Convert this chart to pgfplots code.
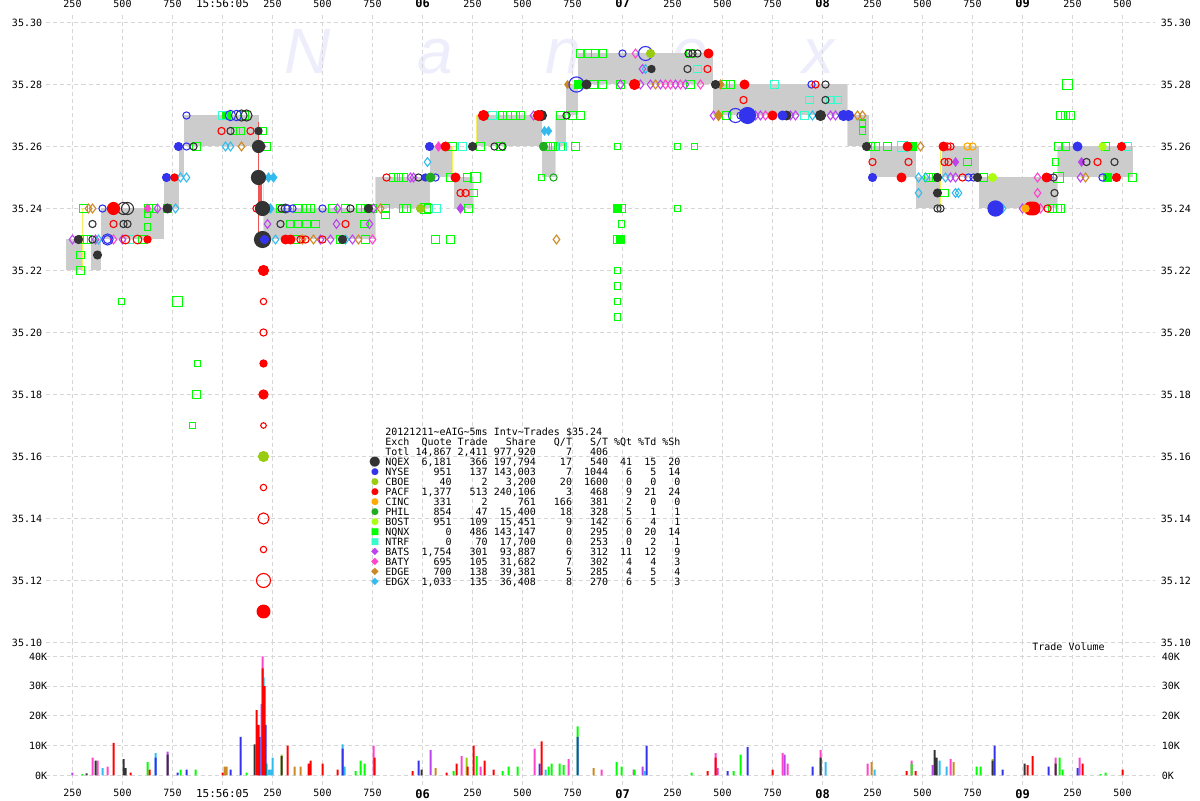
\documentclass[border=0pt]{standalone}
\usepackage{fontspec}
\setmainfont{DejaVu Sans Mono}
\newfontfamily\wmfont{Liberation Sans}
\newfontfamily\symfont{DejaVu Sans}
\usepackage{pgfplots}
\pgfplotsset{compat=1.18}

\definecolor{gridc}{HTML}{D6D6D6}
\definecolor{nbbo}{HTML}{CCCCCC}
\definecolor{wm}{HTML}{EDEDFC}
\definecolor{yel}{HTML}{F4F45A}
\definecolor{redl}{HTML}{EE5555}
\definecolor{nqex}{HTML}{333333}
\definecolor{nyse}{HTML}{3333EE}
\definecolor{cboe}{HTML}{99CC11}
\definecolor{pacf}{HTML}{FF0000}
\definecolor{cinc}{HTML}{FFAA00}
\definecolor{phil}{HTML}{22AA22}
\definecolor{bost}{HTML}{AAFF11}
\definecolor{nqnx}{HTML}{00FF00}
\definecolor{ntrf}{HTML}{33FFCC}
\definecolor{bats}{HTML}{BB44EE}
\definecolor{baty}{HTML}{FF44CC}
\definecolor{edge}{HTML}{CC8822}
\definecolor{edgx}{HTML}{33BBEE}

\newcommand\tbl{\fontsize{5}{5}\selectfont}

\pgfplotsset{
  base/.style={scale only axis, width=554pt, xmin=120, xmax=5660,
    axis line style={draw=none}, major tick length=0pt,
    grid=major, major grid style={gridc, dash pattern=on 2pt off 1.5pt, line width=0.5pt},
    xtick={250,500,...,5500},
    tick label style={font=\tbl, inner sep=0pt}},
  xlabs/.style={xticklabels={250,500,750,{\fontsize{5.5}{5.5}\selectfont 15:56:05},250,500,750,{\fontsize{6}{6}\selectfont\bfseries 06},250,500,750,{\fontsize{6}{6}\selectfont\bfseries 07},250,500,750,{\fontsize{6}{6}\selectfont\bfseries 08},250,500,750,{\fontsize{6}{6}\selectfont\bfseries 09},250,500}},
  pticks/.style={ymin=35.10, ymax=35.3029,
    ytick={35.10,35.12,35.14,35.16,35.18,35.20,35.22,35.24,35.26,35.28,35.30},
    yticklabels={35.10,35.12,35.14,35.16,35.18,35.20,35.22,35.24,35.26,35.28,35.30}},
  vticks/.style={ymin=-3.03, ymax=44.7, ytick={0,10,20,30,40},
    yticklabels={0K,10K,20K,30K,40K}},
  mk/.style 2 args={only marks, scatter, mark=#1, mark options={line width=0.55pt},
    scatter/use mapped color={draw=#2, fill=#2},
    visualization depends on={\thisrow{s}\as\msz},
    scatter/@pre marker code/.append style={/tikz/mark size=\msz}},
  vb/.style={ybar, bar shift=0pt, bar width=1pt, fill=#1, draw=none},
  box/.style={fill=nbbo, draw=none},
  yl/.style={color=yel, line width=0.8pt},
}

\begin{document}
\begin{tikzpicture}
\useasboundingbox (0,0) rectangle (600pt,400pt);

% watermark
\foreach \c/\xx in {N/154pt, a/217.5pt, n/281.5pt, e/345pt, x/409pt}
  \node[anchor=base, inner sep=0, text=wm, font={\wmfont\itshape\fontsize{32}{32}\selectfont}] at (\xx,363pt) {\c};

% price panel
\begin{axis}[base, pticks, at={(23.25pt,78.75pt)}, anchor=south west, height=314.5pt,
  xticklabel pos=upper, xlabs, xticklabel style={anchor=south, yshift=2.75pt},
  yticklabel style={anchor=east, xshift=-2pt}]

% NBBO spread
\addplot[box] coordinates {(220,35.22)(300,35.22)(300,35.23)(220,35.23)};
\addplot[box] coordinates {(340,35.22)(390,35.22)(390,35.23)(340,35.23)};
\addplot[box] coordinates {(390,35.23)(705,35.23)(705,35.24)(390,35.24)};
\addplot[box] coordinates {(705,35.24)(780,35.24)(780,35.25)(705,35.25)};
\addplot[box] coordinates {(780,35.25)(805,35.25)(805,35.26)(780,35.26)};
\addplot[box] coordinates {(805,35.26)(1180,35.26)(1180,35.27)(805,35.27)};
\addplot[box] coordinates {(1205,35.23)(1765,35.23)(1765,35.24)(1205,35.24)};
\addplot[box] coordinates {(1765,35.24)(2035,35.24)(2035,35.25)(1765,35.25)};
\addplot[box] coordinates {(2035,35.25)(2150,35.25)(2150,35.26)(2035,35.26)};
\addplot[box] coordinates {(2155,35.24)(2255,35.24)(2255,35.25)(2155,35.25)};
\addplot[box] coordinates {(2270,35.26)(2595,35.26)(2595,35.27)(2270,35.27)};
\addplot[box] coordinates {(2595,35.25)(2665,35.25)(2665,35.26)(2595,35.26)};
\addplot[box] coordinates {(2665,35.26)(2715,35.26)(2715,35.27)(2665,35.27)};
\addplot[box] coordinates {(2715,35.27)(2775,35.27)(2775,35.28)(2715,35.28)};
\addplot[box] coordinates {(2775,35.28)(3450,35.28)(3450,35.29)(2775,35.29)};
\addplot[box] coordinates {(3450,35.27)(4125,35.27)(4125,35.28)(3450,35.28)};
\addplot[box] coordinates {(4125,35.26)(4230,35.26)(4230,35.27)(4125,35.27)};
\addplot[box] coordinates {(4235,35.25)(4465,35.25)(4465,35.26)(4235,35.26)};
\addplot[box] coordinates {(4465,35.24)(4590,35.24)(4590,35.25)(4465,35.25)};
\addplot[box] coordinates {(4595,35.25)(4780,35.25)(4780,35.26)(4595,35.26)};
\addplot[box] coordinates {(4780,35.24)(5175,35.24)(5175,35.25)(4780,35.25)};
\addplot[box] coordinates {(5175,35.25)(5550,35.25)(5550,35.26)(5175,35.26)};

% locked / crossed markers
\addplot[yl] coordinates {(300,35.22)(300,35.24)};
\addplot[yl] coordinates {(1205,35.23)(1205,35.248)};
\addplot[yl] coordinates {(1765,35.23)(1765,35.25)};
\addplot[yl] coordinates {(2150,35.25)(2150,35.26)};
\addplot[yl] coordinates {(2255,35.24)(2255,35.25)};
\addplot[yl] coordinates {(2270,35.26)(2270,35.27)};
\addplot[yl] coordinates {(2665,35.25)(2665,35.27)};
\addplot[yl] coordinates {(4125,35.26)(4125,35.28)};
\addplot[yl] coordinates {(4590,35.24)(4590,35.26)};
\addplot[yl] coordinates {(5175,35.24)(5175,35.26)};
\addplot[color=redl, line width=0.6pt] coordinates {(1180,35.268)(1180,35.23)};
\addplot[color=redl, line width=1.6pt] coordinates {(1190,35.2485)(1190,35.2405)};

% NQNX / NTRF prints
\addplot[mk={square}{nqnx}] table[row sep=\\]{x y s\\
305 35.24 2.0\\ 325 35.23 2.0\\ 305 35.23 2.0\\ 600 35.23 2.0\\ 290 35.225 1.8\\ 290 35.22 1.8\\
630 35.24 2.0\\ 655 35.24 2.0\\ 725 35.24 2.0\\ 625 35.238 1.6\\ 625 35.234 1.6\\ 495 35.21 1.4\\
775 35.21 2.6\\ 875 35.19 1.4\\ 870 35.18 2.0\\ 850 35.17 1.4\\ 870 35.26 2.2\\ 1110 35.27 2.0\\
1020 35.27 2.0\\ 1065 35.265 1.8\\ 1090 35.265 1.8\\ 1200 35.265 1.8\\ 1220 35.26 1.8\\ 1220 35.24 1.8\\
1290 35.24 1.8\\ 1375 35.24 2.0\\ 1420 35.24 1.8\\ 1440 35.24 1.8\\ 1550 35.24 2.0\\ 1615 35.24 1.8\\
1690 35.24 1.8\\ 1715 35.24 1.8\\ 1750 35.24 1.8\\ 1340 35.235 1.8\\ 1375 35.235 1.8\\ 1420 35.235 1.8\\
1465 35.235 1.8\\ 1710 35.235 1.8\\ 1365 35.23 1.8\\ 1590 35.23 1.8\\ 1715 35.23 1.8\\ 1815 35.238 1.8\\
1855 35.25 1.8\\ 1880 35.25 1.8\\ 1905 35.25 1.8\\ 1815 35.24 1.8\\ 1905 35.24 2.0\\ 1920 35.24 2.0\\
2015 35.24 2.6\\ 2030 35.24 2.0\\ 2065 35.23 1.8\\ 2140 35.23 1.8\\ 2140 35.25 1.8\\ 2225 35.25 1.8\\
2265 35.25 2.4\\ 2150 35.26 1.8\\ 2290 35.26 1.8\\ 2390 35.26 1.8\\ 2255 35.245 1.8\\ 2230 35.24 1.8\\
2400 35.27 2.0\\ 2425 35.27 2.0\\ 2465 35.27 2.0\\ 2490 35.27 2.0\\ 2615 35.26 2.0\\ 2640 35.26 2.0\\
2665 35.26 2.0\\ 2690 35.26 2.0\\ 2765 35.26 2.0\\ 2975 35.26 1.6\\ 3275 35.26 1.6\\ 3360 35.26 1.6\\
2690 35.27 2.0\\ 2750 35.27 2.0\\ 2790 35.27 2.0\\ 2595 35.25 1.6\\ 2790 35.29 1.8\\ 2825 35.29 1.8\\
2865 35.29 1.8\\ 2900 35.29 1.8\\ 2855 35.28 2.0\\ 2900 35.28 2.0\\ 2990 35.28 1.8\\ 3340 35.28 1.8\\
3340 35.29 1.8\\ 3515 35.28 2.0\\ 3540 35.28 2.0\\ 3520 35.27 1.8\\ 2975 35.24 2.2\\ 2995 35.24 1.8\\
2995 35.235 1.6\\ 2975 35.23 2.0\\ 2990 35.23 2.2\\ 2975 35.22 1.6\\ 2975 35.215 1.6\\ 2975 35.21 1.6\\
2975 35.205 1.6\\ 3275 35.24 1.6\\ 4200 35.2675 1.6\\ 4200 35.265 1.6\\ 4240 35.26 1.8\\ 4265 35.26 1.8\\
4325 35.26 1.8\\ 4450 35.26 1.8\\ 4530 35.25 1.8\\ 4555 35.25 1.8\\ 4610 35.245 1.8\\ 4725 35.255 1.8\\
4805 35.25 1.8\\ 5165 35.255 1.6\\ 5180 35.25 2.4\\ 5180 35.26 1.8\\ 5215 35.26 1.8\\ 5150 35.24 1.8\\
5175 35.24 1.8\\ 5190 35.24 1.8\\ 5425 35.25 1.8\\ 5550 35.25 1.8\\ 5225 35.28 2.4\\ 5190 35.27 1.8\\
5215 35.27 1.8\\ 5240 35.27 1.8\\ 5415 35.26 1.8\\
};
\addplot[mk={square*}{nqnx}] table[row sep=\\]{x y s\\
1020 35.27 2.0\\ 2780 35.28 2.2\\ 2975 35.24 2.0\\ 2990 35.23 2.0\\ 4450 35.26 1.8\\ 5425 35.25 1.8\\
};
\addplot[mk={square}{ntrf}] table[row sep=\\]{x y s\\
535 35.23 1.8\\ 1000 35.27 1.8\\ 2200 35.26 1.8\\ 2350 35.27 1.8\\ 2070 35.24 1.8\\ 2700 35.26 1.8\\
3375 35.285 1.8\\ 3760 35.28 1.8\\ 3935 35.275 1.8\\ 4040 35.275 1.8\\ 4075 35.275 1.8\\ 3910 35.27 1.8\\
4400 35.26 2.4\\ 5525 35.26 1.8\\
};

% diamonds: BATS, BATY, EDGE, EDGX
\addplot[mk={diamond}{bats}] table[row sep=\\]{x y s\\
250 35.23 2.2\\ 365 35.23 2.2\\ 500 35.23 2.2\\ 675 35.24 2.2\\ 1225 35.235 2.2\\ 1575 35.24 2.2\\
1570 35.235 2.2\\ 1735 35.235 2.2\\ 1490 35.23 2.2\\ 1540 35.23 2.2\\ 1650 35.23 2.2\\ 1940 35.25 2.2\\
1955 35.25 2.2\\ 1755 35.24 2.2\\ 2555 35.27 2.2\\ 3090 35.28 2.2\\ 3140 35.28 2.2\\ 3190 35.28 2.2\\
3265 35.28 2.2\\ 3315 35.28 2.2\\ 3665 35.27 2.2\\ 3690 35.27 2.2\\ 3840 35.27 2.2\\ 3865 35.27 2.2\\
4040 35.27 2.2\\ 4065 35.27 2.2\\ 4640 35.25 2.2\\ 4665 35.25 2.2\\ 5290 35.25 2.2\\ 5000 35.24 2.2\\
3455 35.27 2.2\\ 2990 35.28 2.2\\ 3100 35.285 2.2\\
};
\addplot[mk={diamond*}{bats}] table[row sep=\\]{x y s\\
2190 35.24 2.2\\ 4665 35.255 2.0\\ 5295 35.255 2.0\\ 1200 35.26 2.0\\
};
\addplot[mk={diamond}{baty}] table[row sep=\\]{x y s\\
455 35.23 2.2\\ 1750 35.23 2.2\\ 3065 35.29 2.2\\ 3215 35.28 2.2\\ 3240 35.28 2.2\\ 3290 35.28 2.2\\
3715 35.27 2.2\\ 5075 35.25 2.2\\ 5075 35.245 2.2\\ 5090 35.24 2.2\\ 3390 35.28 2.2\\
};
\addplot[mk={diamond*}{baty}] table[row sep=\\]{x y s\\
625 35.24 2.0\\ 2080 35.26 2.2\\
};
\addplot[mk={diamond}{edge}] table[row sep=\\]{x y s\\
330 35.24 2.2\\ 350 35.24 2.2\\ 1095 35.26 2.2\\ 1400 35.23 2.2\\ 1455 35.23 2.2\\ 1680 35.23 2.2\\
1790 35.24 2.2\\ 3165 35.28 2.2\\ 4175 35.27 2.2\\ 4200 35.27 2.2\\ 4490 35.26 2.2\\ 5030 35.24 2.2\\
5315 35.25 2.2\\ 2670 35.23 2.2\\
};
\addplot[mk={diamond*}{edge}] table[row sep=\\]{x y s\\
3480 35.27 2.5\\ 3490 35.28 2.2\\ 2725 35.28 1.8\\
};
\addplot[mk={diamond}{edgx}] table[row sep=\\]{x y s\\
380 35.23 2.2\\ 765 35.24 2.2\\ 790 35.25 2.2\\ 820 35.25 2.2\\ 1015 35.26 2.2\\ 1040 35.26 2.2\\
1265 35.23 2.2\\ 1615 35.23 2.2\\ 2025 35.255 2.2\\ 3115 35.285 2.2\\ 3950 35.27 2.2\\ 4480 35.25 2.2\\
4515 35.25 2.2\\ 4480 35.245 2.2\\ 4665 35.245 2.2\\ 4680 35.245 2.2\\ 4615 35.25 2.2\\ 4900 35.24 2.2\\
};
\addplot[mk={diamond*}{edgx}] table[row sep=\\]{x y s\\
1230 35.25 2.2\\ 1255 35.25 2.2\\ 1240 35.24 2.2\\ 2610 35.265 2.0\\ 2630 35.265 2.0\\
};

% circles: quotes (open) and trades (filled)
\addplot[mk={o}{nqex}] table[row sep=\\]{x y s\\
350 35.235 1.8\\ 505 35.235 1.8\\ 525 35.235 1.8\\ 505 35.24 3.0\\ 525 35.24 3.0\\ 350 35.23 1.8\\
855 35.26 1.8\\ 1095 35.27 2.8\\ 1120 35.27 2.8\\ 1040 35.265 1.8\\ 1295 35.24 1.8\\ 1315 35.24 2.2\\
1640 35.24 1.8\\ 1290 35.235 1.8\\ 1980 35.25 1.8\\ 2360 35.26 1.8\\ 2400 35.26 1.8\\ 2720 35.27 1.8\\
3330 35.29 1.8\\ 3350 35.29 1.8\\ 3375 35.29 1.8\\ 3325 35.285 1.8\\ 4015 35.28 1.8\\ 4015 35.275 1.8\\
5320 35.255 1.8\\ 5460 35.255 1.8\\ 5155 35.25 1.8\\ 5160 35.245 1.8\\ 4575 35.24 1.8\\ 4590 35.24 1.8\\
};
\addplot[mk={o}{nyse}] table[row sep=\\]{x y s\\
400 35.24 1.8\\ 425 35.23 2.8\\ 425 35.23 2.0\\ 820 35.27 1.8\\ 820 35.26 1.8\\ 1040 35.27 2.6\\
1070 35.27 2.6\\ 1325 35.24 1.8\\ 1350 35.24 1.8\\ 1500 35.24 1.8\\ 2065 35.25 1.8\\ 2770 35.28 3.8\\
3000 35.29 1.8\\ 3115 35.29 3.5\\ 3565 35.27 3.5\\ 3590 35.27 1.8\\ 3945 35.28 1.8\\ 4730 35.25 1.8\\
4755 35.25 1.8\\ 5130 35.25 1.8\\ 5400 35.25 1.8\\
};
\addplot[mk={o}{pacf}] table[row sep=\\]{x y s\\
455 35.235 1.8\\ 515 35.23 2.2\\ 575 35.23 2.2\\ 995 35.265 1.8\\ 1140 35.265 1.8\\ 1170 35.24 1.8\\
1170 35.25 2.5\\ 1205 35.21 1.6\\ 1205 35.20 1.8\\ 1205 35.18 2.3\\ 1205 35.17 1.4\\ 1205 35.15 1.6\\
1205 35.14 2.8\\ 1205 35.13 1.6\\ 1205 35.12 3.5\\ 1390 35.23 1.8\\ 1415 35.23 1.8\\ 1500 35.23 1.8\\
1615 35.235 1.8\\ 1820 35.25 1.8\\ 2190 35.245 1.8\\ 2215 35.245 1.8\\ 3425 35.285 1.8\\ 3605 35.275 1.8\\
3965 35.28 1.8\\ 4250 35.255 1.8\\ 4430 35.255 1.8\\ 4610 35.255 1.8\\ 4630 35.255 1.8\\ 4625 35.26 1.8\\
4640 35.26 1.8\\ 4700 35.25 1.8\\ 5125 35.24 1.8\\ 5375 35.255 1.8\\
};
\addplot[mk={o}{cinc}] table[row sep=\\]{x y s\\
4725 35.26 1.8\\ 4750 35.26 1.8\\
};
\addplot[mk={o}{phil}] table[row sep=\\]{x y s\\
2655 35.25 1.8\\
};
\addplot[mk={*}{nqex}] table[row sep=\\]{x y s\\
280 35.23 2.0\\ 375 35.225 2.0\\ 725 35.24 2.2\\ 1180 35.26 3.0\\ 1180 35.265 1.8\\ 1180 35.25 3.5\\
1200 35.24 3.5\\ 1200 35.23 4.0\\ 1730 35.24 2.0\\ 1600 35.23 2.0\\ 2250 35.26 2.0\\ 2595 35.27 2.5\\
2820 35.28 2.2\\ 3145 35.285 1.8\\ 3465 35.28 2.0\\ 3820 35.27 2.2\\ 3990 35.27 2.5\\ 4220 35.26 2.0\\
4575 35.25 2.0\\ 4575 35.245 2.0\\ 4775 35.25 2.0\\
};
\addplot[mk={*}{nyse}] table[row sep=\\]{x y s\\
720 35.25 2.0\\ 780 35.26 2.0\\ 1210 35.23 2.0\\ 2035 35.26 2.0\\ 2015 35.25 1.8\\ 3625 35.27 4.0\\
3800 35.27 2.2\\ 4105 35.27 2.5\\ 4130 35.27 2.5\\ 4250 35.25 2.0\\ 4865 35.24 3.8\\ 5275 35.26 2.2\\
};
\addplot[mk={*}{pacf}] table[row sep=\\]{x y s\\
455 35.24 3.0\\ 625 35.23 1.8\\ 760 35.25 1.8\\ 1205 35.22 2.5\\ 1205 35.19 1.8\\ 1205 35.18 1.8\\
1205 35.11 3.2\\ 1315 35.23 2.2\\ 1340 35.23 2.2\\ 2115 35.26 2.2\\ 2305 35.27 2.5\\ 2165 35.25 2.2\\
2580 35.27 2.5\\ 3060 35.28 2.5\\ 3430 35.29 2.2\\ 3610 35.28 2.2\\ 3750 35.27 2.2\\ 4425 35.26 2.2\\
4605 35.26 2.2\\ 4395 35.25 2.2\\ 5040 35.24 3.2\\ 5055 35.24 3.2\\ 5120 35.25 2.2\\ 5470 35.25 2.0\\
5495 35.26 2.0\\
};
\addplot[mk={*}{cboe}] table[row sep=\\]{x y s\\
1205 35.16 2.5\\ 3140 35.29 2.0\\ 1990 35.24 2.0\\
};
\addplot[mk={*}{cinc}] table[row sep=\\]{x y s\\
5015 35.24 1.8\\
};
\addplot[mk={*}{phil}] table[row sep=\\]{x y s\\
2040 35.25 2.2\\ 2605 35.26 2.0\\
};
\addplot[mk={*}{bost}] table[row sep=\\]{x y s\\
4850 35.25 2.0\\ 5400 35.26 1.8\\
};
\end{axis}

% right-hand price labels
\begin{axis}[base, pticks, grid=none, at={(23.25pt,78.75pt)}, anchor=south west, height=314.5pt,
  xtick=\empty, yticklabel pos=right, yticklabel style={anchor=west, xshift=3pt}]
\end{axis}

% volume panel
\begin{axis}[base, vticks, at={(23.25pt,7.75pt)}, anchor=south west, height=71pt,
  xticklabel pos=lower, xlabs, xticklabel style={anchor=north, yshift=-2.25pt},
  yticklabel style={anchor=east, xshift=0.5pt}]
\addplot[vb=baty] coordinates {(350,6)(375,5)(425,3)(1200,40)(1755,10)(2195,6.5)(2290,3)(2560,9)(2730,5.5)(2895,2)(3055,2)(3465,7.5)(3800,7.5)(3825,4)(3990,8.5)(4225,4)(4445,5)(4640,5.5)(5165,6)(5285,6)};
\addplot[vb=bats] coordinates {(250,1)(725,8)(1195,24)(2040,8.5)(3100,3)(3475,2.5)(3810,7)(4550,3.5)};
\addplot[vb=edgx] coordinates {(400,2.5)(665,7.5)(1205,33)(1230,2)(1240,2)(1250,6)(1600,10.5)(1610,3)(2615,2)(3110,1.5)(4015,4.5)(4260,2)(4585,5)(4620,3)};
\addplot[vb=nqnx] coordinates {(300,0.5)(625,4.5)(790,2)(865,2)(1120,1)(1220,4)(1665,1.5)(1690,5)(1710,4)(2155,1.5)(2270,6.5)(2400,1.5)(2430,3)(2475,3)(2630,3)(2645,4)(2685,4)(2705,3.5)(2775,16.5)(2970,4.5)(2995,3)(3060,2)(3345,1)(3555,1.5)(3590,7)(4445,4)(4770,3)(4790,3)(5185,6)(5200,2)(5390,0.5)(5415,1)};
\addplot[vb=cboe] coordinates {(1295,7)(2220,6)(4850,5.5)};
\addplot[vb=edge] coordinates {(1010,3)(1020,3)(1360,3)(1390,3)(2065,2.5)(2855,2.5)(4245,4.5)(4655,4.5)};
\addplot[vb=nqex] coordinates {(320,0.7)(365,5)(505,5.5)(515,2.5)(725,7)(1160,10.5)(1295,6.5)(1995,2)(3990,6)(4560,8.5)(4570,6)(4850,5)(5010,4)(5165,4)};
\addplot[vb=nyse] coordinates {(665,6)(775,1)(820,2)(1040,2)(1090,13)(1185,13)(1215,17)(1600,9)(1980,5)(2585,4)(2775,13)(3120,10)(3525,1.5)(3625,9.5)(3950,3)(4860,10)(4900,2)(5130,3)(5275,2.5)};
\addplot[vb=pacf] coordinates {(455,11)(540,1)(635,2)(1000,1)(1170,22)(1180,17)(1200,36)(1210,30)(1325,10)(1430,4)(1440,5)(1500,4)(1575,2)(1760,6)(1950,1.5)(2120,1)(2170,4)(2225,3)(2255,10)(2310,5)(2355,2)(2595,11.5)(3425,1.5)(3465,6)(3750,2)(4420,1.5)(4465,1.5)(5025,3.5)(5050,6.5)(5300,4)(5500,2)};
\end{axis}

% right-hand volume labels
\begin{axis}[base, vticks, grid=none, at={(23.25pt,7.75pt)}, anchor=south west, height=71pt,
  xtick=\empty, yticklabel pos=right, yticklabel style={anchor=west, xshift=3.5pt}]
\end{axis}

\node[anchor=west, inner sep=0, font=\tbl] at (516pt,76.5pt) {Trade~Volume};

% statistics table
\begin{scope}[every node/.style={anchor=base west, inner sep=0, font=\tbl}]
\node at (192.5pt,182.2pt) {20121211{\textasciitilde}eAIG{\textasciitilde}5ms~Intv{\textasciitilde}Trades~\$35.24};
\node at (192.5pt,177.2pt) {Exch~~Quote~Trade~~~Share~~~Q/T~~~S/T~\%Qt~\%Td~\%Sh};
\node at (192.5pt,172.2pt) {Totl~14,867~2,411~977,920~~~~~7~~~406};
\node at (192.5pt,167.2pt) {NQEX~~6,181~~~366~197,794~~~~17~~~540~~41~~15~~20};
\node at (192.5pt,162.2pt) {NYSE~~~~951~~~137~143,003~~~~~7~~1044~~~6~~~5~~14};
\node at (192.5pt,157.2pt) {CBOE~~~~~40~~~~~2~~~3,200~~~~20~~1600~~~0~~~0~~~0};
\node at (192.5pt,152.2pt) {PACF~~1,377~~~513~240,106~~~~~3~~~468~~~9~~21~~24};
\node at (192.5pt,147.2pt) {CINC~~~~331~~~~~2~~~~~761~~~166~~~381~~~2~~~0~~~0};
\node at (192.5pt,142.2pt) {PHIL~~~~854~~~~47~~15,400~~~~18~~~328~~~5~~~1~~~1};
\node at (192.5pt,137.2pt) {BOST~~~~951~~~109~~15,451~~~~~9~~~142~~~6~~~4~~~1};
\node at (192.5pt,132.2pt) {NQNX~~~~~~0~~~486~143,147~~~~~0~~~295~~~0~~20~~14};
\node at (192.5pt,127.2pt) {NTRF~~~~~~0~~~~70~~17,700~~~~~0~~~253~~~0~~~2~~~1};
\node at (192.5pt,122.2pt) {BATS~~1,754~~~301~~93,887~~~~~6~~~312~~11~~12~~~9};
\node at (192.5pt,117.2pt) {BATY~~~~695~~~105~~31,682~~~~~7~~~302~~~4~~~4~~~3};
\node at (192.5pt,112.2pt) {EDGE~~~~700~~~138~~39,381~~~~~5~~~285~~~4~~~5~~~4};
\node at (192.5pt,107.2pt) {EDGX~~1,033~~~135~~36,408~~~~~8~~~270~~~6~~~5~~~3};
\end{scope}
\begin{scope}[every node/.style={anchor=center, inner sep=0}]
\node[text=nqex, font={\symfont\fontsize{6.6}{6.6}\selectfont}] at (187.5pt,169pt) {●};
\node[text=nyse, font={\symfont\fontsize{4.5}{4.5}\selectfont}] at (187.5pt,164pt) {●};
\node[text=cboe, font={\symfont\fontsize{4.5}{4.5}\selectfont}] at (187.5pt,159pt) {●};
\node[text=pacf, font={\symfont\fontsize{4.5}{4.5}\selectfont}] at (187.5pt,154pt) {●};
\node[text=cinc, font={\symfont\fontsize{4.5}{4.5}\selectfont}] at (187.5pt,149pt) {●};
\node[text=phil, font={\symfont\fontsize{4.5}{4.5}\selectfont}] at (187.5pt,144pt) {●};
\node[text=bost, font={\symfont\fontsize{4.5}{4.5}\selectfont}] at (187.5pt,139pt) {●};
\node[text=nqnx, font={\symfont\fontsize{4.5}{4.5}\selectfont}] at (187.5pt,134pt) {■};
\node[text=ntrf, font={\symfont\fontsize{4.5}{4.5}\selectfont}] at (187.5pt,129pt) {■};
\node[text=bats, font={\symfont\fontsize{5}{5}\selectfont}] at (187.5pt,124pt) {◆};
\node[text=baty, font={\symfont\fontsize{5}{5}\selectfont}] at (187.5pt,119pt) {◆};
\node[text=edge, font={\symfont\fontsize{5}{5}\selectfont}] at (187.5pt,114pt) {◆};
\node[text=edgx, font={\symfont\fontsize{5}{5}\selectfont}] at (187.5pt,109pt) {◆};
\end{scope}
\end{tikzpicture}
\end{document}
